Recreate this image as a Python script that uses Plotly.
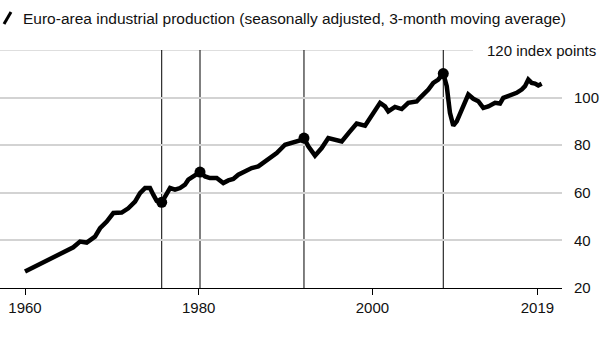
import plotly.graph_objects as go

# Euro-area industrial production (index points)
years = [1960.0, 1961.15, 1962.68, 1963.45, 1964.61, 1965.56, 1966.33, 1967.10, 1968.06, 1968.64,
         1969.41, 1970.17, 1971.13, 1971.89, 1972.67, 1973.24, 1973.82, 1974.39, 1974.77, 1975.16,
         1975.74, 1976.32, 1976.70, 1977.27, 1977.85, 1978.42, 1978.80, 1979.38, 1980.15, 1980.73,
         1981.30, 1982.07, 1982.83, 1983.41, 1983.98, 1984.56, 1985.33, 1986.10, 1986.86, 1987.44,
         1988.21, 1988.98, 1989.94, 1990.89, 1991.66, 1992.12, 1992.62, 1993.39, 1994.16, 1994.92,
         1995.69, 1996.47, 1997.42, 1998.19, 1999.15, 1999.92, 2000.88, 2001.45, 2001.83, 2002.60,
         2003.37, 2004.13, 2005.10, 2005.48, 2006.44, 2007.01, 2007.59, 2008.16, 2008.56, 2008.93,
         2009.31, 2009.71, 2010.28, 2011.04, 2011.62, 2012.19, 2012.77, 2013.35, 2014.12, 2014.69,
         2015.07, 2015.84, 2016.61, 2017.19, 2017.57, 2017.95, 2018.34, 2018.72, 2019.10, 2019.49]
values = [26.9, 29.0, 31.8, 33.5, 35.6, 37.1, 39.5, 39.1, 41.6, 45.1,
          47.9, 51.5, 51.7, 53.5, 56.3, 59.9, 62.0, 62.0, 59.2, 56.6,
          56.0, 59.2, 62.0, 61.3, 62.0, 63.4, 65.5, 66.9, 68.7, 66.9,
          66.2, 66.2, 64.1, 65.2, 65.8, 67.6, 69.0, 70.4, 71.1, 72.5,
          74.6, 76.7, 80.2, 81.2, 82.0, 83.0, 79.5, 75.6, 78.8, 83.0,
          82.3, 81.6, 85.8, 89.1, 88.2, 92.8, 97.8, 96.3, 94.2, 96.1,
          95.2, 97.8, 98.4, 99.9, 103.4, 106.2, 107.6, 110.1, 104.8, 93.6,
          88.2, 90.0, 95.0, 101.3, 99.5, 98.5, 95.7, 96.3, 97.8, 97.5,
          99.9, 100.8, 102.0, 103.4, 104.8, 107.6, 106.2, 105.9, 105.1, 105.8]

# Turning points marked with vertical lines and dots
event_years = [1975.74, 1980.15, 1992.12, 2008.16]
event_values = [56.0, 68.7, 83.0, 110.1]

x_ticks = [1960, 1980, 2000, 2019]
y_ticks = [20, 40, 60, 80, 100]
y_top = 120
title_text = "Euro-area industrial production (seasonally adjusted, 3-month moving average)"

FONT = "Liberation Sans, Arial, Helvetica, sans-serif"

fig = go.Figure()
fig.add_trace(go.Scatter(x=years, y=values, mode="lines",
                         line=dict(color="black", width=4.5), hoverinfo="skip"))
fig.add_trace(go.Scatter(x=event_years, y=event_values, mode="markers",
                         marker=dict(color="black", size=11), hoverinfo="skip"))

shapes = []
for ey in event_years:
    shapes.append(dict(type="line", xref="x", yref="y", x0=ey, x1=ey, y0=20, y1=y_top,
                       line=dict(color="black", width=1), layer="below"))
# top gridline shortened to leave room for its label
shapes.append(dict(type="line", xref="paper", yref="y", x0=0, x1=473 / 562, y0=y_top, y1=y_top,
                   line=dict(color="#d3d3d3", width=1.5), layer="below"))
# legend swatch
shapes.append(dict(type="line", xref="paper", yref="paper",
                   x0=4 / 562, x1=11 / 562, y0=(288 - 24) / 238, y1=(288 - 12) / 238,
                   line=dict(color="black", width=3)))

annotations = [
    dict(text=title_text, xref="paper", yref="paper", x=21 / 562, y=(288 - 18) / 238,
         xanchor="left", yanchor="middle", showarrow=False,
         font=dict(family=FONT, size=15.5, color="#111")),
    dict(text=f"{y_top} index points", xref="paper", yref="y", x=1, y=y_top,
         xanchor="right", xshift=36, yanchor="middle", showarrow=False,
         font=dict(family=FONT, size=15, color="#111")),
]

fig.update_layout(
    width=602, height=338,
    margin=dict(l=0, r=40, t=50, b=50),
    paper_bgcolor="white", plot_bgcolor="white",
    showlegend=False,
    shapes=shapes, annotations=annotations,
    xaxis=dict(range=[1957.12, 2021.83], tickvals=x_ticks, ticktext=[str(t) for t in x_ticks],
               showgrid=False, zeroline=False, showline=True, linecolor="black", linewidth=1,
               ticks="outside", ticklen=6, tickcolor="black", tickwidth=1,
               tickfont=dict(family=FONT, size=15, color="#111")),
    yaxis=dict(range=[20, y_top], side="right", tickvals=y_ticks, ticktext=[str(t) for t in y_ticks],
               showgrid=True, gridcolor="#d3d3d3", gridwidth=1.5, zeroline=False, showline=False,
               ticks="", ticklabelstandoff=11,
               tickfont=dict(family=FONT, size=15, color="#111")),
)

fig.write_html("out.html")
